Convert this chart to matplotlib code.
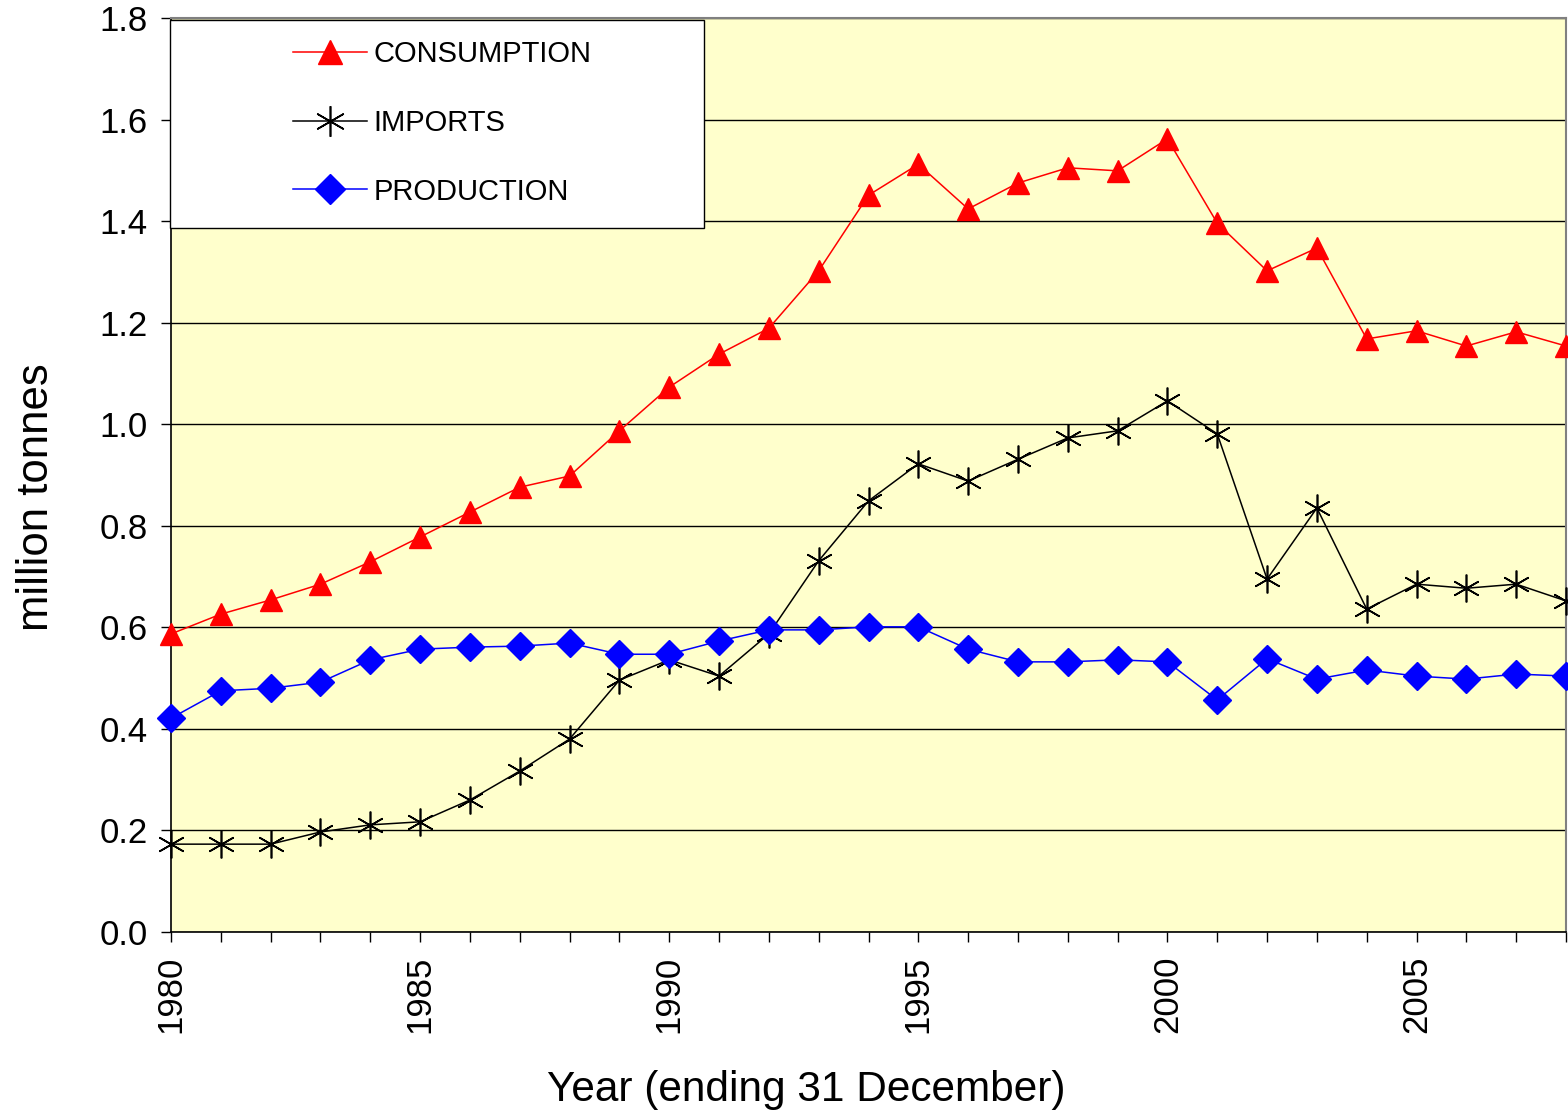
import numpy as np
import matplotlib
matplotlib.use('Agg')
import matplotlib.pyplot as plt
from matplotlib.patches import Rectangle

plt.rcParams['font.family'] = ['Liberation Sans', 'DejaVu Sans']

years = list(range(1980, 2009))

consumption = [0.587, 0.626, 0.654, 0.685, 0.729, 0.778, 0.827, 0.876, 0.898, 0.987,
               1.073, 1.138, 1.189, 1.302, 1.451, 1.512, 1.424, 1.475, 1.505, 1.499,
               1.562, 1.396, 1.302, 1.347, 1.168, 1.184, 1.154, 1.182, 1.154]

imports = [0.173, 0.173, 0.173, 0.197, 0.211, 0.217, 0.260, 0.317, 0.380, 0.496,
           0.536, 0.504, 0.587, 0.731, 0.849, 0.922, 0.888, 0.931, 0.973, 0.987,
           1.046, 0.981, 0.695, 0.835, 0.636, 0.685, 0.677, 0.685, 0.652]

production = [0.421, 0.475, 0.480, 0.492, 0.536, 0.557, 0.561, 0.563, 0.569, 0.547,
              0.547, 0.573, 0.595, 0.595, 0.601, 0.601, 0.557, 0.532, 0.532, 0.536,
              0.532, 0.457, 0.538, 0.498, 0.516, 0.504, 0.498, 0.508, 0.504]

W, H = 1568, 1116
fig = plt.figure(figsize=(W / 100, H / 100), dpi=100)
ax = fig.add_axes([171/W, 1 - 932/H, (1566 - 171)/W, (932 - 18)/H])
ax.set_facecolor('#FFFFCC')

ax.plot(years, consumption, color='red', lw=1.1, marker='^', ms=16,
        mec='red', mfc='red', label='CONSUMPTION', clip_on=False, zorder=4)
ax.plot(years, imports, color='black', lw=1.1, marker=(6, 2, 0), ms=20,
        mew=1.2, label='IMPORTS', clip_on=False, zorder=4)
ax.plot(years, production, color='blue', lw=1.1, marker='D', ms=14,
        mec='blue', mfc='blue', label='PRODUCTION', clip_on=False, zorder=4)

ax.set_xlim(1980, 2008)
ax.set_ylim(0, 1.8)
yt = np.arange(0, 1.81, 0.2)
ax.set_yticks(yt)
ax.set_yticklabels([f'{v:.1f}' for v in yt], fontsize=25)
ax.set_xticks(range(1980, 2009, 5))
ax.set_xticks(years, minor=True)
ax.set_xticklabels([str(y) for y in range(1980, 2009, 5)], rotation=90, fontsize=25)
ax.tick_params(axis='x', which='both', direction='out', length=7, width=1.0, pad=10)
ax.tick_params(axis='y', direction='out', length=7, width=1.0, pad=10)

ax.grid(axis='y', color='black', lw=1)
ax.set_axisbelow(True)
for side in ['left', 'bottom']:
    ax.spines[side].set_linewidth(1.2)
for side in ['top', 'right']:
    ax.spines[side].set_color('#808080')
    ax.spines[side].set_linewidth(1.5)

ax.set_ylabel('million tonnes', fontsize=31.5)
ax.yaxis.set_label_coords(-(171 - 37) / 1395, (932 - 497) / 914)
ax.yaxis.label.set_va('center')
ax.set_xlabel('Year (ending 31 December)', fontsize=30.5)
ax.xaxis.set_label_coords((806 - 171) / 1395, -(1090 - 932) / 914)
ax.xaxis.label.set_va('center')

# legend box drawn separately so it can be wider than its contents
box = Rectangle((170/W, 1 - 228/H), (704 - 170)/W, (228 - 20)/H,
                transform=fig.transFigure, facecolor='white', edgecolor='black',
                lw=1.0, zorder=5)
fig.patches.append(box)

leg = ax.legend(loc='upper left', bbox_to_anchor=(293/W, 1 - 40/H),
                bbox_transform=fig.transFigure, fontsize=21, frameon=False,
                borderpad=0, borderaxespad=0, labelspacing=1.4,
                handlelength=2.55, handletextpad=0.2, markerscale=1.1)
leg.set_zorder(6)
leg.remove()
fig.add_artist(leg)

fig.savefig('out.png', dpi=100)
